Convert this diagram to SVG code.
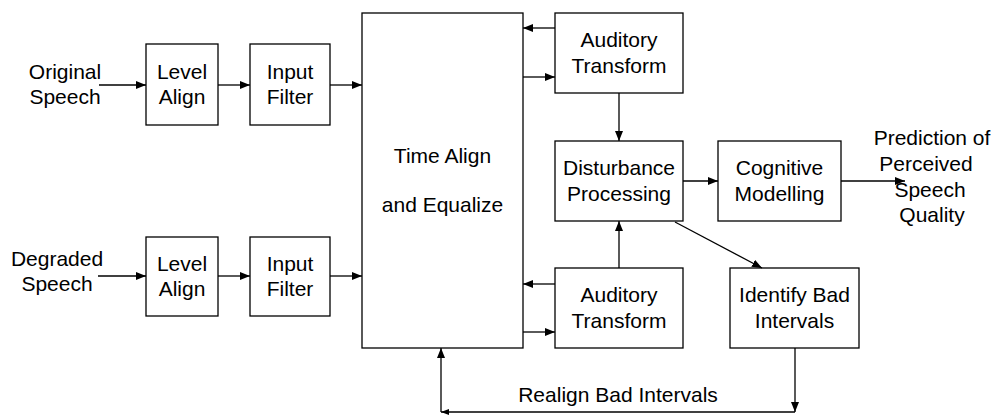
<svg xmlns="http://www.w3.org/2000/svg" width="995" height="415" viewBox="0 0 995 415">
  <defs>
    <marker id="arrow" viewBox="0 0 10 8" refX="10" refY="4" markerWidth="10" markerHeight="8" markerUnits="userSpaceOnUse" orient="auto">
      <path d="M0,0 L10,4 L0,8 Z" fill="#000"/>
    </marker>
    <marker id="arrow-small" viewBox="0 0 8 6" refX="8" refY="3" markerWidth="8" markerHeight="6" markerUnits="userSpaceOnUse" orient="auto">
      <path d="M0,0 L8,3 L0,6 Z" fill="#000"/>
    </marker>
  </defs>
  <style>
    .box { fill: #fff; stroke: #000; stroke-width: 1.3; }
    .lbl { font-family: "Liberation Sans", Arial, sans-serif; font-size: 21px; fill: #000; text-anchor: middle; }
    .wire { fill: none; stroke: #000; stroke-width: 1.3; }
    .arr { marker-end: url(#arrow); }
  </style>
  <rect width="995" height="415" fill="#fff"/>

  <!-- input labels -->
  <g id="original-speech">
    <text class="lbl" x="65" y="79">Original</text>
    <text class="lbl" x="65" y="104">Speech</text>
  </g>
  <g id="degraded-speech">
    <text class="lbl" x="57" y="266">Degraded</text>
    <text class="lbl" x="57" y="291">Speech</text>
  </g>

  <!-- upper path -->
  <g id="level-align-1">
    <rect class="box" x="146" y="44" width="72" height="81"/>
    <text class="lbl" x="182" y="79">Level</text>
    <text class="lbl" x="182" y="104">Align</text>
  </g>
  <g id="input-filter-1">
    <rect class="box" x="250" y="44" width="80" height="81"/>
    <text class="lbl" x="290" y="79">Input</text>
    <text class="lbl" x="290" y="104">Filter</text>
  </g>

  <!-- lower path -->
  <g id="level-align-2">
    <rect class="box" x="146" y="237" width="72" height="79"/>
    <text class="lbl" x="182" y="271">Level</text>
    <text class="lbl" x="182" y="296">Align</text>
  </g>
  <g id="input-filter-2">
    <rect class="box" x="250" y="237" width="80" height="79"/>
    <text class="lbl" x="290" y="271">Input</text>
    <text class="lbl" x="290" y="296">Filter</text>
  </g>

  <g id="time-align">
    <rect class="box" x="362" y="13" width="161" height="335"/>
    <text class="lbl" x="442.5" y="163">Time Align</text>
    <text class="lbl" x="442.5" y="212">and Equalize</text>
  </g>

  <g id="auditory-transform-1">
    <rect class="box" x="555" y="13" width="128" height="80"/>
    <text class="lbl" x="619" y="47">Auditory</text>
    <text class="lbl" x="619" y="73">Transform</text>
  </g>
  <g id="disturbance-processing">
    <rect class="box" x="555" y="141" width="128" height="80"/>
    <text class="lbl" x="619" y="175">Disturbance</text>
    <text class="lbl" x="619" y="201">Processing</text>
  </g>
  <g id="auditory-transform-2">
    <rect class="box" x="555" y="268" width="128" height="80"/>
    <text class="lbl" x="619" y="302">Auditory</text>
    <text class="lbl" x="619" y="328">Transform</text>
  </g>
  <g id="cognitive-modelling">
    <rect class="box" x="718" y="141" width="123" height="80"/>
    <text class="lbl" x="779.5" y="175">Cognitive</text>
    <text class="lbl" x="779.5" y="201">Modelling</text>
  </g>
  <g id="identify-bad-intervals">
    <rect class="box" x="730" y="268" width="129" height="80"/>
    <text class="lbl" x="794.5" y="302">Identify Bad</text>
    <text class="lbl" x="794.5" y="328">Intervals</text>
  </g>

  <g id="output-label">
    <text class="lbl" x="932" y="145">Prediction of</text>
    <text class="lbl" x="926" y="171">Perceived</text>
    <text class="lbl" x="930" y="197">Speech</text>
    <text class="lbl" x="932" y="222">Quality</text>
  </g>

  <g id="realign-label">
    <text class="lbl" x="618" y="402">Realign Bad Intervals</text>
  </g>

  <g id="connectors">
    <!-- inputs -->
    <line class="wire arr" x1="99" y1="85" x2="146" y2="85"/>
    <line class="wire arr" x1="218" y1="85" x2="250" y2="85"/>
    <line class="wire arr" x1="330" y1="85" x2="362" y2="85"/>
    <line class="wire arr" x1="98" y1="276" x2="146" y2="276"/>
    <line class="wire arr" x1="218" y1="276" x2="250" y2="276"/>
    <line class="wire arr" x1="330" y1="276" x2="362" y2="276"/>
    <!-- time align <-> auditory transforms -->
    <line class="wire arr" x1="555" y1="28" x2="523" y2="28"/>
    <line class="wire arr" x1="523" y1="77" x2="555" y2="77"/>
    <line class="wire arr" x1="555" y1="284" x2="523" y2="284"/>
    <line class="wire arr" x1="523" y1="332" x2="555" y2="332"/>
    <!-- into disturbance processing -->
    <line class="wire arr" x1="619" y1="93" x2="619" y2="141"/>
    <line class="wire arr" x1="619" y1="268" x2="619" y2="221"/>
    <!-- disturbance onwards -->
    <line class="wire arr" x1="683" y1="181" x2="718" y2="181"/>
    <line class="wire arr" x1="841" y1="181" x2="905" y2="181"/>
    <line class="wire arr" x1="675" y1="222" x2="762" y2="268"/>
    <!-- realignment feedback loop -->
    <line class="wire arr" x1="795" y1="348" x2="795" y2="412"/>
    <line class="wire" x1="795" y1="412" x2="441" y2="412" marker-end="url(#arrow-small)"/>
    <line class="wire arr" x1="441" y1="412" x2="441" y2="348"/>
  </g>
</svg>
